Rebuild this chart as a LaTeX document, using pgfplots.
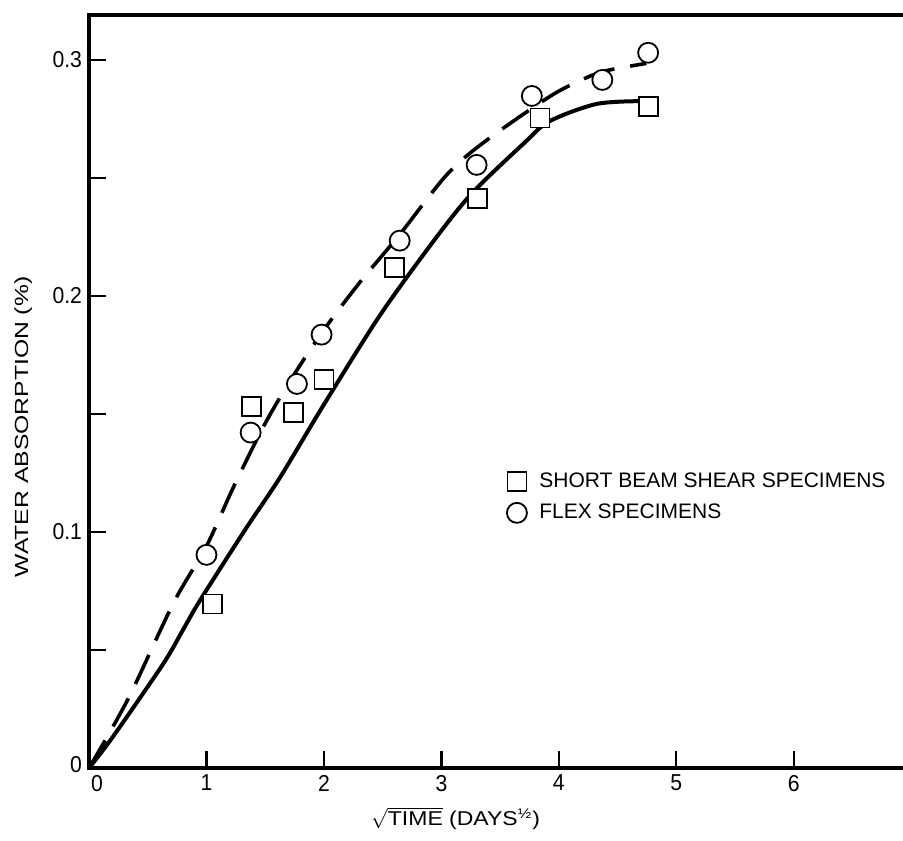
\documentclass[border=0pt]{standalone}
\usepackage{fontspec}
\setmainfont{Liberation Sans}
\newfontfamily\ylabfont[FakeStretch=1.3]{Liberation Sans}
\newfontfamily\xlabfont[FakeStretch=1.15]{Liberation Sans}
\newfontfamily\tickfont[FakeStretch=0.92]{Liberation Sans}
\usepackage{pgfplots}
\pgfplotsset{compat=1.18}

\begin{document}
\begin{tikzpicture}
% the right frame line lies beyond the page edge, as in the scan
\path[use as bounding box] (-44.5pt,-36pt) rectangle (407pt,384pt);
\begin{axis}[
  at={(0,0)}, anchor=south west,
  scale only axis, width=420pt, height=376.5pt,
  xmin=0, xmax=7.151, ymin=0, ymax=0.319,
  axis line style={line width=1.8pt},
  xtick={0,1,2,3,4,5,6},
  xticklabels={\hspace*{8pt}0,1,2,3,4,5,6},
  ytick={0,0.05,0.1,0.15,0.2,0.25,0.3},
  yticklabels={\raisebox{4pt}{0},,0.1,,0.2,,0.3},
  xtick pos=left, ytick pos=left,
  tick align=inside,
  major tick length=8.5pt,
  every tick/.style={line width=1.1pt, black},
  tick label style={font=\tickfont\fontsize{11.5}{13}\selectfont},
  xlabel={$\sqrt{\mbox{TIME}}$ (DAYS\textsuperscript{½})},
  xlabel style={at={(axis description cs:0.4364,-0.077)}, anchor=base,
    font=\xlabfont\fontsize{10}{12}\selectfont},
  ylabel={WATER ABSORPTION (\%)},
  ylabel style={at={(axis description cs:-0.0726,0.453)}, rotate=0, anchor=base,
    font=\ylabfont\fontsize{9.5}{11}\selectfont},
  legend style={at={(axis cs:3.50,0.1148)}, anchor=west, draw=none, fill=none,
    font=\fontsize{10.5}{12}\selectfont, row sep=3pt},
  legend cell align=left,
  legend image code/.code={\path (-5pt,0pt) (9pt,0pt);
    \draw[#1] plot coordinates {(0pt,0pt)};},
]
% fitted curves
\addplot[forget plot, line width=2pt, smooth] coordinates {
  (0,0) (0.2,0.013) (0.63,0.044) (0.8,0.0585) (0.945,0.071) (1.33,0.101)
  (1.625,0.123) (2.0,0.154) (2.48,0.192) (2.96,0.225) (3.27,0.244) (3.71,0.265)
  (3.92,0.274) (4.32,0.2813) (4.70,0.2825)};
\addplot[forget plot, line width=1.8pt, smooth, dash pattern=on 16pt off 8pt] coordinates {
  (0,0) (0.33,0.029) (0.72,0.07) (1.0,0.094) (1.23,0.119) (1.50,0.146)
  (1.75,0.167) (2.02,0.187) (2.31,0.206) (2.645,0.226) (3.04,0.251)
  (3.36,0.265) (3.94,0.285) (4.29,0.2936) (4.46,0.296) (4.745,0.2985)};
% measured points
\addplot[only marks, mark=square*, mark size=4.75pt,
  mark options={fill=white, draw=black, line width=0.9pt}] coordinates {
  (1.05,0.0695) (1.385,0.153) (1.74,0.1506) (2.0,0.1647) (2.60,0.212)
  (3.31,0.2414) (3.84,0.2754) (4.76,0.2802)};
\addlegendentry{SHORT BEAM SHEAR SPECIMENS}
\addplot[only marks, mark=*, mark size=5pt,
  mark options={fill=white, draw=black, line width=0.9pt}] coordinates {
  (1.0,0.0903) (1.376,0.1421) (1.77,0.1627) (1.98,0.1836) (2.645,0.2234)
  (3.30,0.2555) (3.77,0.2847) (4.37,0.2915) (4.76,0.303)};
\addlegendentry{FLEX SPECIMENS}
\end{axis}
\end{tikzpicture}
\end{document}
